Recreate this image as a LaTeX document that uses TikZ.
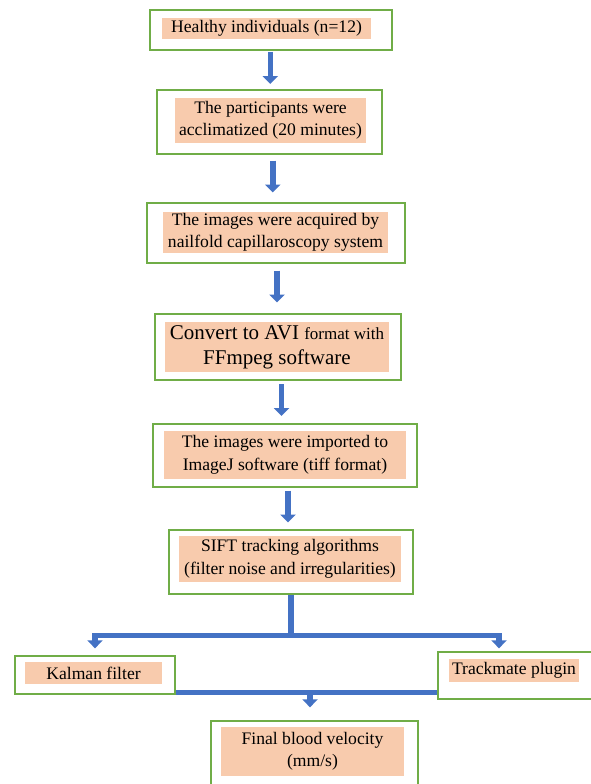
\documentclass[tikz,border=0pt]{standalone}
\usepackage{fontspec}
\setmainfont{Liberation Serif}
\usetikzlibrary{arrows.meta,calc}
\definecolor{boxgreen}{HTML}{70AD47}
\definecolor{peach}{HTML}{F8CBAD}
\definecolor{flowblue}{HTML}{4472C4}

\begin{document}
\begin{tikzpicture}[x=1pt,y=-1pt,
  box/.style={draw=boxgreen,line width=1.3pt,fill=white,inner sep=0pt},
  hl/.style={fill=peach,inner sep=0pt,align=center,font=\fontsize{17.6}{22.5}\selectfont},
  flow/.style={draw=flowblue,line width=5.5pt,-{Triangle[width=15pt,length=8pt]}},
  flowbar/.style={draw=flowblue,line width=5pt}]
  \path[use as bounding box,clip] (0,0) rectangle (591,784);
  % outer boxes
  \foreach \n/\x/\y/\w/\h in {b1/271/30/242/40, b2/269.5/122/225/64,
      b3/276/233/258/60, b4/278/347/246/66, b5/285/455.5/264/63,
      b6/291/562/244/64, kal/95/675/160/38, tm/519/675.5/162/47,
      fin/314.5/760.5/207/79}
    { \node[box,minimum width=\w,minimum height=\h] (\n) at (\x,\y) {}; }
  % highlighted texts
  \node[hl,minimum width=209,minimum height=21] (t1) at (266.5,28.5) {Healthy individuals (n=12)};
  \node[hl,minimum width=191,minimum height=45] (t2) at (270.5,120.5) {The participants were\\acclimatized (20 minutes)};
  \node[hl,minimum width=225,minimum height=41] (t3) at (275.5,232.5) {The images were acquired by\\nailfold capillaroscopy system};
  \node[hl,minimum width=224,minimum height=50,font=\fontsize{21}{25}\selectfont] (t4) at (277,347)
    {Convert to AVI {\fontsize{17}{20}\selectfont format with}\\FFmpeg software};
  \node[hl,minimum width=242,minimum height=48] (t5) at (285,455) {The images were imported to\\ImageJ software (tiff format)};
  \node[hl,minimum width=222,minimum height=46] (t6) at (290,559) {SIFT tracking algorithms\\(filter noise and irregularities)};
  \node[hl,minimum width=137,minimum height=22] (tk) at (93.5,673) {Kalman filter};
  \node[hl,minimum width=130,minimum height=23] (tt) at (514,670.5) {Trackmate plugin};
  \node[hl,minimum width=183,minimum height=49] (tf) at (312.5,751.5) {Final blood velocity\\(mm/s)};
  % straight arrows
  \foreach \a/\b in {b1/b2,b2/b3,b3/b4,b4/b5,b5/b6} {
    \coordinate (m) at ($(\a.south)!.5!(\b.north)$);
    \draw[flow] ([yshift=18pt]m) -- ([yshift=-14pt]m);
  }
  % split
  \coordinate (split) at ([yshift=-41pt]b6.south);
  \draw[flowbar,line width=6pt] (b6.south) -- (split);
  \draw[flow,shorten >=7pt] (split) -| (kal.north);
  \draw[flow,shorten >=3pt] (split) -| ([xshift=-20pt]tm.north);
  % merge
  \coordinate (merge) at (310,692);
  \draw[flowbar] (kal.east |- merge) -- (tm.west |- merge);
  \draw[flow,shorten >=13pt] (merge) -- (merge |- fin.north);
\end{tikzpicture}
\end{document}
